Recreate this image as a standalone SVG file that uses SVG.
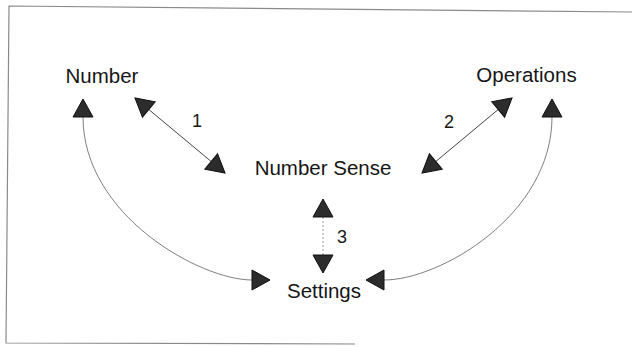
<svg xmlns="http://www.w3.org/2000/svg" width="632" height="347" viewBox="0 0 632 347">
<style>
.lbl{font-family:"Liberation Sans",Arial,sans-serif;font-size:20.5px;fill:#161616;text-anchor:middle}
.num{font-family:"Liberation Sans",Arial,sans-serif;font-size:18px;fill:#161616;text-anchor:middle}
.frame{fill:none;stroke:#8a8a8a;stroke-width:1.2}
.curve{fill:none;stroke:#707070;stroke-width:0.9;marker-start:url(#tri);marker-end:url(#tri)}
.straight{fill:none;stroke:#444;stroke-width:1;marker-start:url(#tri);marker-end:url(#tri)}
.dotted{fill:none;stroke:#9a9a9a;stroke-width:1;stroke-dasharray:2 2;marker-start:url(#tri);marker-end:url(#tri)}
</style>
<defs>
<marker id="tri" viewBox="-1 -11 21 22" markerUnits="userSpaceOnUse" markerWidth="21" markerHeight="22" refX="0" refY="0" orient="auto-start-reverse" overflow="visible">
<path d="M0,-10 L18,0 L0,10 z" fill="#2c2c2c" stroke="#111" stroke-width="1" stroke-linejoin="miter"/>
</marker>
</defs>
<path class="frame" d="M632,12 L9,6 L6,343 L355,344"/>
<g id="connectors">
<path id="c-number-settings" class="curve" d="M83,117 C83,215 200,280 252,280"/>
<path id="c-operations-settings" class="curve" d="M552,117 C552,215 440,280 384,280"/>
<path id="c1" class="straight" d="M148.8,109.5 L211.2,161.5"/>
<path id="c2" class="straight" d="M498.2,109.5 L435.8,161.5"/>
<path id="c3" class="dotted" d="M323,217 L323,255"/>
<text class="num" x="197" y="127">1</text>
<text class="num" x="449" y="128">2</text>
<text class="num" x="342" y="243">3</text>
</g>
<g id="number"><text class="lbl" x="102" y="83">Number</text></g>
<g id="operations"><text class="lbl" x="526.5" y="82">Operations</text></g>
<g id="number-sense"><text class="lbl" x="323" y="175">Number Sense</text></g>
<g id="settings"><text class="lbl" x="324" y="298">Settings</text></g>
</svg>
